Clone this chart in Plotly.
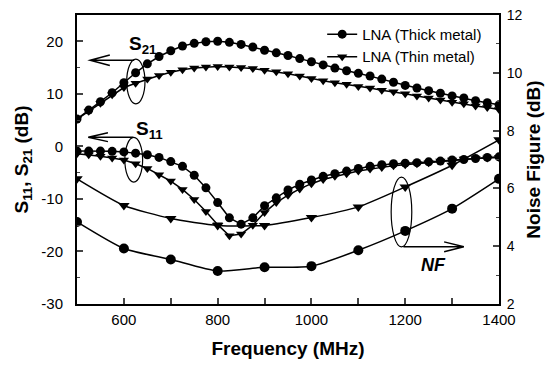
import plotly.graph_objects as go

# ---------------- data ----------------
freq_s = [500, 525, 550, 575, 600, 625, 650, 675, 700, 725, 750, 775, 800, 825, 850, 875,
          900, 925, 950, 975, 1000, 1025, 1050, 1075, 1100, 1125, 1150, 1175, 1200, 1225,
          1250, 1275, 1300, 1325, 1350, 1375, 1400]

s21_thick = [5.2, 6.9, 8.5, 10.2, 12.1, 14.0, 15.7, 17.1, 18.2, 19.1, 19.6, 19.9, 20.0, 19.8,
             19.4, 18.9, 18.3, 17.8, 17.3, 16.7, 16.1, 15.5, 14.9, 14.4, 13.9, 13.4, 12.8,
             12.2, 11.6, 11.1, 10.6, 10.1, 9.6, 9.2, 8.7, 8.3, 7.9]
s21_thin = [5.2, 6.7, 8.2, 9.8, 11.2, 12.0, 12.8, 13.5, 14.1, 14.6, 14.9, 15.1, 15.2, 15.1,
            15.0, 14.8, 14.5, 14.2, 13.8, 13.4, 12.9, 12.5, 12.1, 11.8, 11.4, 11.1, 10.7,
            10.4, 10.0, 9.6, 9.2, 8.8, 8.4, 8.1, 7.7, 7.4, 7.0]
s11_thick = [-0.9, -0.9, -0.9, -0.95, -1.05, -1.3, -1.6, -2.1, -2.9, -3.8, -5.5, -7.9, -10.7,
             -13.6, -14.8, -13.6, -11.3, -9.8, -8.3, -7.2, -6.4, -5.7, -5.2, -4.7, -4.2, -3.8,
             -3.5, -3.3, -3.2, -3.1, -2.95, -2.8, -2.6, -2.5, -2.3, -2.1, -2.0]
s11_thin = [-1.4, -1.6, -1.9, -2.2, -2.6, -3.3, -4.2, -5.4, -6.6, -8.2, -10.1, -12.4, -14.9,
            -17.0, -16.7, -15.0, -12.6, -10.7, -9.3, -8.1, -7.1, -6.3, -5.7, -5.2, -4.7, -4.3,
            -4.0, -3.7, -3.5, -3.3, -3.1, -2.8, -2.6, -2.4, -2.3, -2.2, -2.1]

freq_nf = [500, 600, 700, 800, 900, 1000, 1100, 1200, 1300, 1400]
nf_thick = [4.84, 3.92, 3.54, 3.14, 3.27, 3.31, 3.86, 4.53, 5.30, 6.33]
nf_thin = [6.33, 5.41, 4.96, 4.72, 4.72, 4.99, 5.36, 6.05, 6.80, 7.68]

series_names = ["LNA (Thick metal)", "LNA (Thin metal)"]
x_tick_vals = [600, 800, 1000, 1200, 1400]
y1_tick_vals = [20, 10, 0, -10, -20, -30]
y1_tick_text = ["20", "10", "0", "-10", "-20", "-30"]
y2_tick_vals = [2, 4, 6, 8, 10, 12]

FONT = "Liberation Sans, Arial, sans-serif"
BLACK = "black"

fig = go.Figure()

def add(x, y, sym, name, show, axis="y", msize=8, shape="linear"):
    fig.add_trace(go.Scatter(
        x=x, y=y, mode="lines+markers", name=name, showlegend=show, yaxis=axis,
        line=dict(color=BLACK, width=1.5, shape=shape, smoothing=0.6),
        marker=dict(symbol=sym, size=msize, color=BLACK),
    ))

add(freq_s, s21_thick, "circle", series_names[0], True, msize=9)
add(freq_s, s21_thin, "triangle-down", series_names[1], True, msize=9)
add(freq_s, s11_thick, "circle", series_names[0], False, msize=9)
add(freq_s, s11_thin, "triangle-down", series_names[1], False, msize=9)
add(freq_nf, nf_thick, "circle", series_names[0], False, axis="y2", msize=10, shape="spline")
add(freq_nf, nf_thin, "triangle-down", series_names[1], False, axis="y2", msize=10, shape="spline")

# ellipses
shapes = [
    dict(type="circle", xref="x", yref="y", x0=606, x1=645, y0=8.1, y1=16.6,
         line=dict(color=BLACK, width=1.2)),
    dict(type="circle", xref="x", yref="y", x0=602, x1=640, y0=-6.8, y1=1.7,
         line=dict(color=BLACK, width=1.2)),
    dict(type="circle", xref="x", yref="y2", x0=1170, x1=1214, y0=3.98, y1=6.39,
         line=dict(color=BLACK, width=1.2)),
    # arrows (line + open head)
    dict(type="path", xref="x", yref="y",
         path="M 622 16.4 L 528 16.4 M 570 17.4 L 528 16.4 L 570 15.4",
         line=dict(color=BLACK, width=1.5)),
    dict(type="path", xref="x", yref="y",
         path="M 620 1.75 L 524 1.75 M 566 2.6 L 524 1.75 L 566 0.9",
         line=dict(color=BLACK, width=1.5)),
    dict(type="path", xref="x", yref="y2",
         path="M 1196 3.98 L 1325 3.98 M 1283 4.15 L 1325 3.98 L 1283 3.81",
         line=dict(color=BLACK, width=1.5)),
]

annotations = [
    dict(text="<b>S<sub>21</sub></b>", x=640, y=19.3, xref="x", yref="y", showarrow=False,
         font=dict(size=19, family=FONT, color=BLACK)),
    dict(text="<b>S<sub>11</sub></b>", x=655, y=3.2, xref="x", yref="y", showarrow=False,
         font=dict(size=19, family=FONT, color=BLACK)),
    dict(text="<b><i>NF</i></b>", x=1260, y=3.34, xref="x", yref="y2", showarrow=False,
         font=dict(size=18, family=FONT, color=BLACK)),
]

# the page body has an 8px margin, so the figure is sized to fill the rest of the window
fig.update_layout(
    width=545, height=359,
    margin=dict(l=69, r=54, t=7, b=63, autoexpand=False),
    paper_bgcolor="white", plot_bgcolor="white",
    font=dict(family=FONT, color=BLACK, size=15),
    shapes=shapes, annotations=annotations,
    legend=dict(x=0.581, y=0.99, xanchor="left", yanchor="top",
                bgcolor="rgba(0,0,0,0)", font=dict(size=15, family=FONT),
                tracegroupgap=0, itemwidth=30),
    xaxis=dict(range=[500, 1400], tickvals=x_tick_vals, ticks="inside", ticklen=6,
               tickwidth=1.5, showline=True, linewidth=2, linecolor=BLACK, mirror=True,
               showgrid=False, zeroline=False, tickfont=dict(size=15), automargin=False,
               ticklabelstandoff=1, ticklabeloverflow="allow",
               minor=dict(dtick=100, tick0=500, ticks="inside", ticklen=6, tickwidth=1.5),
               title=dict(text="<b>Frequency (MHz)</b>", font=dict(size=19), standoff=15)),
    yaxis=dict(range=[-30, 25], tickvals=y1_tick_vals, ticktext=y1_tick_text,
               ticks="inside", ticklen=6,
               tickwidth=1.5, showline=True, linewidth=2, linecolor=BLACK, mirror=True,
               showgrid=False, zeroline=False, tickfont=dict(size=15), automargin=False,
               ticklabelstandoff=9, ticklabeloverflow="allow",
               minor=dict(dtick=5, tick0=0, ticks="inside", ticklen=3, tickwidth=1.2),
               title=dict(text="<b>S<sub>11</sub>, S<sub>21</sub> (dB)</b>",
                          font=dict(size=19), standoff=8)),
    yaxis2=dict(range=[2, 12], tickvals=y2_tick_vals, overlaying="y", side="right",
                ticks="inside", ticklen=6, tickwidth=1.5, showline=True, linewidth=2,
                linecolor=BLACK, showgrid=False, zeroline=False, tickfont=dict(size=14),
                ticklabelstandoff=3, automargin=False, ticklabeloverflow="allow",
                minor=dict(dtick=1, tick0=2, ticks="inside", ticklen=3, tickwidth=1.2),
                title=dict(text="<b>Noise Figure (dB)</b>", font=dict(size=19), standoff=3)),
)

fig.write_html("out.html")
